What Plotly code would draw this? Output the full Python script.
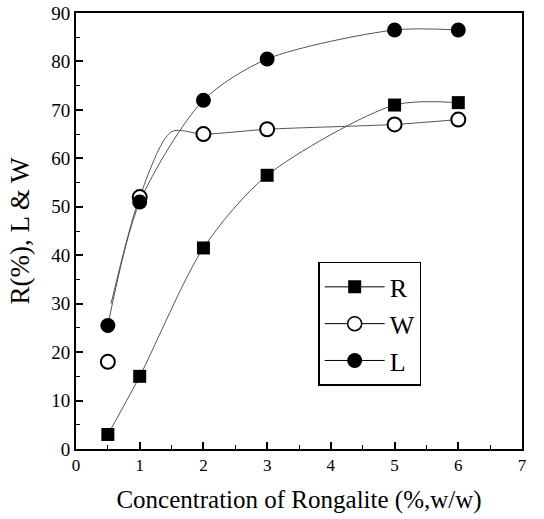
import plotly.graph_objects as go

# Data
conc = [0.5, 1, 2, 3, 5, 6]
R_vals = [3, 15, 41.5, 56.5, 71, 71.5]
W_vals = [18, 52, 65, 66, 67, 68]
L_vals = [25.5, 51, 72, 80.5, 86.5, 86.5]

# Fitted curve drawn for W (starts above the first W point in the figure)
W_curve_x = [0.55, 1, 1.5, 2, 3, 5, 6]
W_curve_y = [30, 52, 65.5, 65, 66, 67, 68]

x_ticks = [0, 1, 2, 3, 4, 5, 6, 7]
y_ticks = [0, 10, 20, 30, 40, 50, 60, 70, 80, 90]

FONT = "Liberation Serif"
LINE_C = "#555555"

fig = go.Figure()

# curves
fig.add_trace(go.Scatter(x=conc, y=R_vals, mode="lines", line=dict(color=LINE_C, width=1, shape="spline", smoothing=0.8),
                         showlegend=False, hoverinfo="skip"))
fig.add_trace(go.Scatter(x=W_curve_x, y=W_curve_y, mode="lines", line=dict(color=LINE_C, width=1, shape="spline", smoothing=0.8),
                         showlegend=False, hoverinfo="skip"))
fig.add_trace(go.Scatter(x=conc, y=L_vals, mode="lines", line=dict(color=LINE_C, width=1, shape="spline", smoothing=0.8),
                         showlegend=False, hoverinfo="skip"))

# markers
fig.add_trace(go.Scatter(x=conc, y=R_vals, mode="markers", showlegend=False,
                         marker=dict(symbol="square", size=13, color="black")))
fig.add_trace(go.Scatter(x=conc, y=W_vals, mode="markers", showlegend=False,
                         marker=dict(symbol="circle", size=14, color="white", line=dict(color="black", width=2))))
fig.add_trace(go.Scatter(x=conc, y=L_vals, mode="markers", showlegend=False,
                         marker=dict(symbol="circle", size=15, color="black")))

# legend entries
fig.add_trace(go.Scatter(x=[None], y=[None], mode="lines+markers", name="R",
                         line=dict(color="black", width=1),
                         marker=dict(symbol="square", size=13, color="black")))
fig.add_trace(go.Scatter(x=[None], y=[None], mode="lines+markers", name="W",
                         line=dict(color="black", width=1),
                         marker=dict(symbol="circle", size=14, color="white", line=dict(color="black", width=1.5))))
fig.add_trace(go.Scatter(x=[None], y=[None], mode="lines+markers", name="L",
                         line=dict(color="black", width=1),
                         marker=dict(symbol="circle", size=15, color="black")))

axis_common = dict(
    showgrid=False, zeroline=False, showline=True, linecolor="black", linewidth=2,
    mirror=True, ticks="inside", ticklen=7, tickwidth=1.5, tickcolor="black",
    automargin=False,
)

fig.update_xaxes(range=[0, 7], tickvals=x_ticks,
                 tickfont=dict(family=FONT, size=17, color="black"),
                 minor=dict(dtick=0.5, ticks="inside", ticklen=4, tickwidth=1, tickcolor="black"),
                 title=dict(text="Concentration of Rongalite (%,w/w)", font=dict(family=FONT, size=25, color="black"), standoff=16),
                 **axis_common)
fig.update_yaxes(range=[0, 90], tickvals=y_ticks,
                 tickfont=dict(family=FONT, size=19, color="black"),
                 minor=dict(dtick=5, ticks="inside", ticklen=4, tickwidth=1, tickcolor="black"),
                 title=dict(text="R(%), L & W", font=dict(family=FONT, size=27, color="black"), standoff=14),
                 **axis_common)

fig.update_layout(
    width=544, height=519,
    margin=dict(l=76, r=22, t=13, b=70),
    paper_bgcolor="white", plot_bgcolor="white",
    legend=dict(x=0.543, y=0.429, xanchor="left", yanchor="top",
                bordercolor="black", borderwidth=1.5, bgcolor="white",
                font=dict(family=FONT, size=26, color="black"),
                itemwidth=60),
    showlegend=True,
)

fig.write_html("out.html", config={"displayModeBar": False},
               post_script="document.body.style.margin='0px';")
